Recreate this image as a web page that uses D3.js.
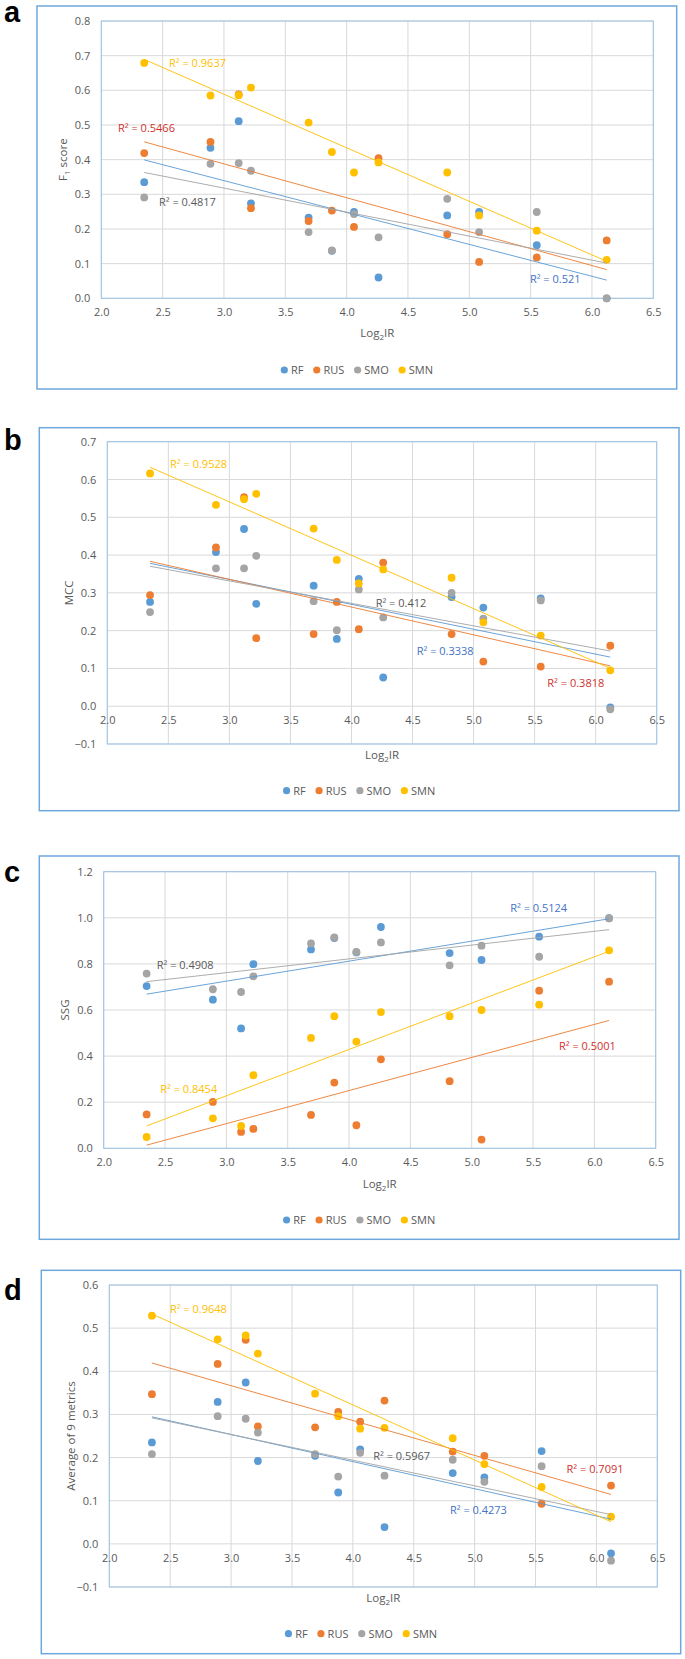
<!DOCTYPE html>
<html><head><meta charset="utf-8">
<script src="https://cdn.jsdelivr.net/npm/d3@7"></script>
<style>body{margin:0;background:#fff}svg{display:block}text{font-family:"Open Sans",sans-serif}</style>
</head><body><svg id="chart" width="685" height="1659"></svg>
<script>
// ---------------- DATA ----------------
const log2IR = [2.35, 2.89, 3.12, 3.22, 3.69, 3.88, 4.06, 4.26, 4.82, 5.08, 5.55, 6.12];
const seriesNames = ["RF", "RUS", "SMO", "SMN"];
const xTicks = [2.0, 2.5, 3.0, 3.5, 4.0, 4.5, 5.0, 5.5, 6.0, 6.5];

// (a) F1 score
const f1RF  = [0.335, 0.434, 0.511, 0.274, 0.233, 0.137, 0.249, 0.060, 0.239, 0.249, 0.153, 0.000];
const f1RUS = [0.419, 0.451, 0.588, 0.260, 0.223, 0.253, 0.206, 0.404, 0.185, 0.105, 0.118, 0.167];
const f1SMO = [0.291, 0.388, 0.390, 0.368, 0.191, 0.138, 0.243, 0.176, 0.287, 0.191, 0.249, 0.000];
const f1SMN = [0.679, 0.585, 0.586, 0.608, 0.507, 0.422, 0.363, 0.392, 0.363, 0.239, 0.195, 0.111];
const f1R2  = ["0.521", "0.5466", "0.4817", "0.9637"];
const f1Ticks = [0.0, 0.1, 0.2, 0.3, 0.4, 0.5, 0.6, 0.7, 0.8];

// (b) MCC
const mccRF  = [0.276, 0.408, 0.469, 0.271, 0.319, 0.178, 0.337, 0.076, 0.289, 0.261, 0.285, -0.003];
const mccRUS = [0.294, 0.420, 0.553, 0.180, 0.191, 0.276, 0.204, 0.380, 0.191, 0.118, 0.105, 0.160];
const mccSMO = [0.249, 0.365, 0.365, 0.398, 0.278, 0.201, 0.309, 0.235, 0.300, 0.232, 0.280, -0.008];
const mccSMN = [0.616, 0.533, 0.548, 0.562, 0.470, 0.387, 0.325, 0.362, 0.340, 0.222, 0.187, 0.095];
const mccR2  = ["0.3338", "0.3818", "0.412", "0.9528"];
const mccTicks = [-0.1, 0.0, 0.1, 0.2, 0.3, 0.4, 0.5, 0.6, 0.7];

// (c) SSG
const ssgRF  = [0.704, 0.645, 0.520, 0.799, 0.863, 0.912, 0.850, 0.960, 0.847, 0.817, 0.918, 0.998];
const ssgRUS = [0.147, 0.201, 0.071, 0.084, 0.145, 0.285, 0.100, 0.386, 0.291, 0.038, 0.684, 0.723];
const ssgSMO = [0.758, 0.690, 0.678, 0.746, 0.889, 0.915, 0.852, 0.893, 0.794, 0.879, 0.831, 0.998];
const ssgSMN = [0.049, 0.130, 0.097, 0.317, 0.479, 0.573, 0.463, 0.591, 0.573, 0.600, 0.623, 0.859];
const ssgR2  = ["0.5124", "0.5001", "0.4908", "0.8454"];
const ssgTicks = [0.0, 0.2, 0.4, 0.6, 0.8, 1.0, 1.2];

// (d) Average of 9 metrics
const avgRF  = [0.235, 0.329, 0.374, 0.192, 0.204, 0.119, 0.219, 0.039, 0.164, 0.154, 0.215, -0.022];
const avgRUS = [0.347, 0.417, 0.473, 0.272, 0.270, 0.306, 0.283, 0.332, 0.214, 0.204, 0.093, 0.135];
const avgSMO = [0.208, 0.296, 0.290, 0.258, 0.208, 0.156, 0.211, 0.158, 0.195, 0.144, 0.180, -0.039];
const avgSMN = [0.529, 0.474, 0.483, 0.441, 0.348, 0.296, 0.267, 0.269, 0.245, 0.185, 0.132, 0.063];
const avgR2  = ["0.4273", "0.7091", "0.5967", "0.9648"];
const avgTicks = [-0.1, 0.0, 0.1, 0.2, 0.3, 0.4, 0.5, 0.6];

// ---------------- STYLE / LAYOUT ----------------
const seriesColors = ["#5B9BD5", "#ED7D31", "#A5A5A5", "#FFC000"];
const r2Colors = ["#4472C4", "#D0312D", "#595959", "#FFC000"];
const textColor = "#595959";

const panels = [
  { letter: "a", title: ["F", "1", " score"], values: [f1RF, f1RUS, f1SMO, f1SMN], r2: f1R2, ticks: f1Ticks,
    frame: [37, 6, 676.7, 389], plot: [101.3, 21, 653.3, 298.3], xTitleY: 333, legendY: 370, letterY: 21.5,
    r2Pos: [[5.494, 0.056], [2.136, 0.491], [2.470, 0.278], [2.552, 0.679]] },
  { letter: "b", title: ["MCC"], values: [mccRF, mccRUS, mccSMO, mccSMN], r2: mccR2, ticks: mccTicks,
    frame: [39.3, 427.7, 679, 810.7], plot: [107.3, 441.7, 656.7, 744], xTitleY: 755, legendY: 790.7, letterY: 450,
    r2Pos: [[4.534, 0.146], [5.604, 0.062], [4.198, 0.272], [2.514, 0.640]] },
  { letter: "c", title: ["SSG"], values: [ssgRF, ssgRUS, ssgSMO, ssgSMN], r2: ssgR2, ticks: ssgTicks,
    frame: [39.3, 856, 679, 1239.3], plot: [103.7, 871.7, 655.7, 1148.3], xTitleY: 1184.3, legendY: 1220, letterY: 882,
    r2Pos: [[5.314, 1.041], [5.711, 0.445], [2.432, 0.796], [2.461, 0.257]] },
  { letter: "d", title: ["Average of 9 metrics"], values: [avgRF, avgRUS, avgSMO, avgSMN], r2: avgR2, ticks: avgTicks,
    frame: [41.3, 1270.3, 680.7, 1653.7], plot: [109.3, 1285, 657.3, 1587], xTitleY: 1598.3, legendY: 1633.7, letterY: 1300,
    r2Pos: [[4.797, 0.079], [5.755, 0.173], [4.167, 0.204], [2.498, 0.545]] }
];

const svg = d3.select("#chart");

function fit(xs, ys) {
  const mx = d3.mean(xs), my = d3.mean(ys);
  let sxy = 0, sxx = 0;
  xs.forEach((x, i) => { sxy += (x - mx) * (ys[i] - my); sxx += (x - mx) * (x - mx); });
  const b = sxy / sxx;
  return { b, a: my - b * mx };
}

panels.forEach(p => {
  const g = svg.append("g");
  const [fx0, fy0, fx1, fy1] = p.frame;
  const [px0, py0, px1, py1] = p.plot;
  const x = d3.scaleLinear().domain([2.0, 6.5]).range([px0, px1]);
  const yDom = d3.extent(p.ticks);
  const y = d3.scaleLinear().domain(yDom).range([py1, py0]);

  // outer frame
  g.append("rect").attr("x", fx0).attr("y", fy0).attr("width", fx1 - fx0).attr("height", fy1 - fy0)
    .attr("fill", "#fff").attr("stroke", "#6FA8DC").attr("stroke-width", 1.5);

  // panel letter
  g.append("text").attr("x", 4).attr("y", p.letterY).text(p.letter)
    .style("font-family", "'Liberation Sans', Arial, sans-serif").style("font-weight", "bold")
    .style("font-size", "29px").attr("fill", "#000");

  // gridlines
  g.append("g").selectAll("line").data(p.ticks).join("line")
    .attr("x1", px0).attr("x2", px1).attr("y1", d => y(d)).attr("y2", d => y(d))
    .attr("stroke", "#D9D9D9").attr("stroke-width", 1);
  g.append("g").selectAll("line").data(xTicks).join("line")
    .attr("x1", d => x(d)).attr("x2", d => x(d)).attr("y1", py0).attr("y2", py1)
    .attr("stroke", "#D9D9D9").attr("stroke-width", 1);

  // plot area border
  g.append("rect").attr("x", px0).attr("y", py0).attr("width", px1 - px0).attr("height", py1 - py0)
    .attr("fill", "none").attr("stroke", "#9DC3E6").attr("stroke-width", 1);

  // y axis
  const yAxis = d3.axisLeft(y).tickValues(p.ticks).tickFormat(d3.format(".1f")).tickSize(0).tickPadding(11);
  const ya = g.append("g").attr("transform", `translate(${px0},0)`).call(yAxis);
  ya.select(".domain").remove();
  ya.selectAll("text").attr("fill", textColor).style("font-size", "11px").style("font-family", "'Open Sans', sans-serif");

  // x axis at y=0
  const xAxis = d3.axisBottom(x).tickValues(xTicks).tickFormat(d3.format(".1f")).tickSize(0).tickPadding(10);
  const xa = g.append("g").attr("transform", `translate(0,${y(0)})`).call(xAxis);
  xa.select(".domain").remove();
  xa.selectAll("text").attr("fill", textColor).style("font-size", "11px").style("font-family", "'Open Sans', sans-serif");

  // x title
  const xt = g.append("text").attr("x", (px0 + px1) / 2).attr("y", p.xTitleY).attr("dy", "0.35em")
    .attr("text-anchor", "middle").attr("fill", textColor).style("font-size", "11.5px");
  xt.append("tspan").text("Log");
  xt.append("tspan").text("2").attr("dy", 3).style("font-size", "8px");
  xt.append("tspan").text("IR").attr("dy", -3);

  // y title
  const yt = g.append("text").attr("transform", `translate(${px0 - 38.5},${(py0 + py1) / 2}) rotate(-90)`)
    .attr("dy", "0.35em").attr("text-anchor", "middle").attr("fill", textColor).style("font-size", "11.5px");
  if (p.title.length === 3) {
    yt.append("tspan").text(p.title[0]);
    yt.append("tspan").text(p.title[1]).attr("dy", 3).style("font-size", "8px");
    yt.append("tspan").text(p.title[2]).attr("dy", -3);
  } else {
    yt.text(p.title[0]);
  }

  // points
  p.values.forEach((vals, si) => {
    g.append("g").selectAll("circle").data(vals.map((v, i) => [log2IR[i], v])).join("circle")
      .attr("cx", d => x(d[0])).attr("cy", d => y(d[1])).attr("r", 3.9)
      .attr("fill", seriesColors[si]);
  });

  // trendlines
  p.values.forEach((vals, si) => {
    const f = fit(log2IR, vals);
    const xmin = d3.min(log2IR), xmax = d3.max(log2IR);
    g.append("line").attr("x1", x(xmin)).attr("y1", y(f.a + f.b * xmin))
      .attr("x2", x(xmax)).attr("y2", y(f.a + f.b * xmax))
      .attr("stroke", seriesColors[si]).attr("stroke-width", 1).attr("opacity", 0.9);
  });

  // R² labels
  p.r2.forEach((r, si) => {
    const pos = p.r2Pos[si];
    g.append("text").attr("x", x(pos[0])).attr("y", y(pos[1])).attr("dy", "0.35em")
      .attr("fill", r2Colors[si]).style("font-size", "11px").text("R\u00B2 = " + r);
  });

  // legend
  const lg = g.append("g");
  let cx = 0;
  const items = [];
  seriesNames.forEach((n, si) => {
    const it = lg.append("g");
    it.append("circle").attr("cx", 0).attr("cy", 0).attr("r", 3.6).attr("fill", seriesColors[si]);
    const t = it.append("text").attr("x", 6.7).attr("dy", "0.35em").attr("fill", textColor)
      .style("font-size", "11px").text(n);
    items.push({ it, w: t.node().getComputedTextLength() });
  });
  items.forEach((o, i) => {
    o.it.attr("transform", `translate(${cx},0)`);
    cx += 6.7 + o.w + (i < items.length - 1 ? 13.3 : 0);
  });
  const totalW = cx + 3.6;
  const startX = (fx0 + fx1) / 2 - totalW / 2 + 3.6;
  lg.attr("transform", `translate(${startX},${p.legendY})`);
});
</script></body></html>
